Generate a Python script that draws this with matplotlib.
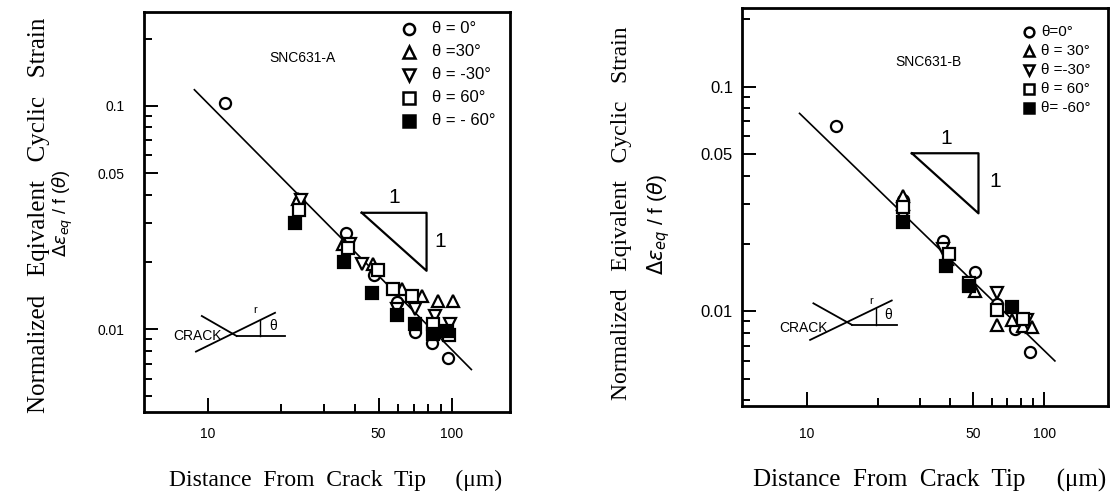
import matplotlib
matplotlib.use("Agg")
import matplotlib.pyplot as plt
from matplotlib.ticker import FixedLocator, FixedFormatter, NullFormatter

plt.rcParams['mathtext.fontset'] = 'dejavusans'
plt.rcParams['font.family'] = ['Liberation Sans', 'DejaVu Sans']

# marker per angle: 0, 30, -30, 60, -60 deg
markers = ["o", "^", "v", "s", "s"]
fills = ["white", "white", "white", "white", "black"]

# SNC631-A : distance from crack tip (um) / normalized strain
a_x = [
    [11.7, 23.6, 36.8, 48.0, 59.5, 70.5, 82.7, 96.3],
    [23.4, 35.7, 47.5, 62.2, 75.0, 87.6, 100.9],
    [24.0, 38.3, 42.9, 59.4, 70.5, 85.0, 97.9],
    [23.6, 37.5, 49.8, 57.1, 68.3, 83.9, 97.4],
    [22.7, 36.1, 47.0, 59.4, 70.5, 83.9, 95.0],
]
a_y = [
    [0.103, 0.037, 0.027, 0.0175, 0.0133, 0.0097, 0.0087, 0.0074],
    [0.0384, 0.024, 0.0195, 0.0151, 0.0141, 0.0134, 0.0134],
    [0.0377, 0.024, 0.0195, 0.0123, 0.0123, 0.0115, 0.0106],
    [0.0343, 0.0232, 0.0185, 0.0151, 0.0141, 0.0106, 0.0094],
    [0.030, 0.0199, 0.0145, 0.0116, 0.0106, 0.0095, 0.0098],
]
a_labels = ["θ = 0°", "θ =30°", "θ = -30°", "θ = 60°", "θ = - 60°"]
a_fit_x = [8.8, 120]
a_fit_y = [0.118, 0.0066]

# SNC631-B
b_x = [
    [13.25, 25.4, 37.5, 51.2, 63.3, 75.6, 87.1],
    [25.4, 38.9, 51.2, 63.3, 73.3, 81.4, 88.6],
    [25.4, 37.5, 63.3, 84.6],
    [25.4, 39.8, 48.2, 63.3, 81.4],
    [25.4, 38.5, 48.2, 73.3],
]
b_y = [
    [0.0666, 0.0311, 0.0205, 0.0149, 0.0108, 0.0083, 0.0066],
    [0.0325, 0.0170, 0.0123, 0.0087, 0.0091, 0.0086, 0.0085],
    [0.0262, 0.0189, 0.0121, 0.0091],
    [0.029, 0.0179, 0.0134, 0.0101, 0.0092],
    [0.0249, 0.0159, 0.0129, 0.0104],
]
b_labels = ["θ=0°", "θ = 30°", "θ =-30°", "θ = 60°", "θ= -60°"]
b_fit_x = [9.3, 111]
b_fit_y = [0.076, 0.0060]

x_major = [10, 50, 100]
x_minor = [20, 30, 40, 60, 70, 80, 90]
y_major = [0.01, 0.05, 0.1]
y_minor = [0.004, 0.005, 0.006, 0.007, 0.008, 0.009, 0.02, 0.03, 0.04,
           0.06, 0.07, 0.08, 0.09, 0.2]

fig = plt.figure(figsize=(11.17, 4.93), dpi=100)

panels = [
    dict(rect=[0.1289, 0.1643, 0.3277, 0.8114], xlim=(5.47, 172.8), ylim=(0.00426, 0.263),
         xs=a_x, ys=a_y, labels=a_labels, fx=a_fit_x, fy=a_fit_y, name="SNC631-A",
         name_pos=(0.434, 0.885), leg_m=0.724, leg_t=0.787, leg_top=0.9575, leg_step=0.0575,
         leg_fs=12, leg_ms=8, tri=(0.595, 0.772, 0.498, 0.353), one_top=(0.683, 0.535),
         one_right=(0.809, 0.426),
         crack=dict(a=((0.158, 0.253), (0.24, 0.19)), b=((0.142, 0.358), (0.151, 0.248)),
                    c=((0.253, 0.385), (0.19, 0.19)), txt=(0.146, 0.19), r=(0.303, 0.255),
                    th=(0.352, 0.215), tick=0.318),
         ytick_fs=10, ypad=14, xpad=11),
    dict(rect=[0.6643, 0.1765, 0.3277, 0.8073], xlim=(5.32, 186), ylim=(0.00378, 0.224),
         xs=b_x, ys=b_y, labels=b_labels, fx=b_fit_x, fy=b_fit_y, name="SNC631-B",
         name_pos=(0.508, 0.865), leg_m=0.783, leg_t=0.818, leg_top=0.94, leg_step=0.048,
         leg_fs=11, leg_ms=7, tri=(0.464, 0.646, 0.635, 0.484), one_top=(0.559, 0.673),
         one_right=(0.691, 0.564),
         crack=dict(a=((0.195, 0.30), (0.258, 0.204)), b=((0.186, 0.409), (0.166, 0.265)),
                    c=((0.30, 0.423), (0.204, 0.204)), txt=(0.167, 0.196), r=(0.354, 0.265),
                    th=(0.399, 0.229), tick=0.365),
         ytick_fs=12, ypad=6.5, xpad=15),
]

for p in panels:
    ax = fig.add_axes(p["rect"])
    ax.set_xscale("log")
    ax.set_yscale("log")

    ax.plot(p["fx"], p["fy"], color="black", lw=1.2, zorder=2)
    for i in range(5):
        ax.plot(p["xs"][i], p["ys"][i], linestyle="none", marker=markers[i], ms=8,
                mfc=fills[i], mec="black", mew=1.6, zorder=3)

    ax.set_xlim(p["xlim"])
    ax.set_ylim(p["ylim"])

    ax.xaxis.set_major_locator(FixedLocator(x_major))
    ax.xaxis.set_major_formatter(FixedFormatter(["10", "50", "100"]))
    ax.xaxis.set_minor_locator(FixedLocator(x_minor))
    ax.xaxis.set_minor_formatter(NullFormatter())
    ax.yaxis.set_major_locator(FixedLocator(y_major))
    ax.yaxis.set_major_formatter(FixedFormatter(["0.01", "0.05", "0.1"]))
    ax.yaxis.set_minor_locator(FixedLocator(y_minor))
    ax.yaxis.set_minor_formatter(NullFormatter())

    ax.tick_params(which="both", direction="in", top=False, right=False, width=1.4)
    ax.tick_params(which="major", length=10)
    ax.tick_params(which="minor", length=5.5)
    ax.tick_params(axis="x", labelsize=10, pad=p["xpad"])
    ax.tick_params(axis="y", labelsize=p["ytick_fs"], pad=p["ypad"])
    for s in ax.spines.values():
        s.set_linewidth(2)

    ax.text(p["name_pos"][0], p["name_pos"][1], p["name"], transform=ax.transAxes,
            fontsize=10, ha="center", va="center")

    # legend drawn by hand
    for i in range(5):
        yy = p["leg_top"] - i * p["leg_step"]
        ax.plot([p["leg_m"]], [yy], transform=ax.transAxes, marker=markers[i], ms=p["leg_ms"],
                mfc=fills[i], mec="black", mew=1.8, linestyle="none", clip_on=False)
        ax.text(p["leg_t"], yy, p["labels"][i], transform=ax.transAxes,
                fontsize=p["leg_fs"], ha="left", va="center")

    # slope 1:1 triangle
    x0, x1, y0, y1 = p["tri"]
    ax.plot([x0, x1, x1, x0], [y0, y0, y1, y0], transform=ax.transAxes,
            color="black", lw=1.6)
    ax.text(p["one_top"][0], p["one_top"][1], "1", transform=ax.transAxes,
            fontsize=15, ha="center", va="center")
    ax.text(p["one_right"][0], p["one_right"][1], "1", transform=ax.transAxes,
            fontsize=15, ha="center", va="center")

    # crack sketch
    c = p["crack"]
    for k in ["a", "b", "c"]:
        ax.plot(c[k][0], c[k][1], transform=ax.transAxes, color="black", lw=1.3)
    ax.text(c["txt"][0], c["txt"][1], "CRACK", transform=ax.transAxes,
            fontsize=10, ha="center", va="center")
    ax.text(c["r"][0], c["r"][1], "r", transform=ax.transAxes, fontsize=8,
            ha="center", va="center")
    ax.text(c["th"][0], c["th"][1], "θ", transform=ax.transAxes, fontsize=10,
            ha="center", va="center")
    yb = c["b"][1][0] + (c["tick"] - c["b"][0][0]) * (c["b"][1][1] - c["b"][1][0]) / (c["b"][0][1] - c["b"][0][0])
    ax.plot([c["tick"], c["tick"]], [c["c"][1][0], yb], transform=ax.transAxes,
            color="black", lw=1.0)

ylab1 = "Normalized   Eqivalent   Cyclic   Strain"
ylab2 = r"$\Delta\varepsilon_{eq}$ / f ($\theta$)"
xlab = "Distance  From  Crack  Tip     (μm)"

fig.text(0.0345, 0.5639, ylab1, rotation=90, ha="center", va="center",
         fontsize=18, family="Liberation Serif")
fig.text(0.0565, 0.568, ylab2, rotation=90, ha="center", va="center", fontsize=13)
fig.text(0.5565, 0.568, ylab1, rotation=90, ha="center", va="center",
         fontsize=17, family="Liberation Serif")
fig.text(0.590, 0.544, ylab2, rotation=90, ha="center", va="center", fontsize=15)
fig.text(0.3008, 0.0264, xlab, ha="center", va="center", fontsize=17,
         family="Liberation Serif")
fig.text(0.8326, 0.0264, xlab, ha="center", va="center", fontsize=18,
         family="Liberation Serif")

fig.savefig("out.png", dpi=100)
